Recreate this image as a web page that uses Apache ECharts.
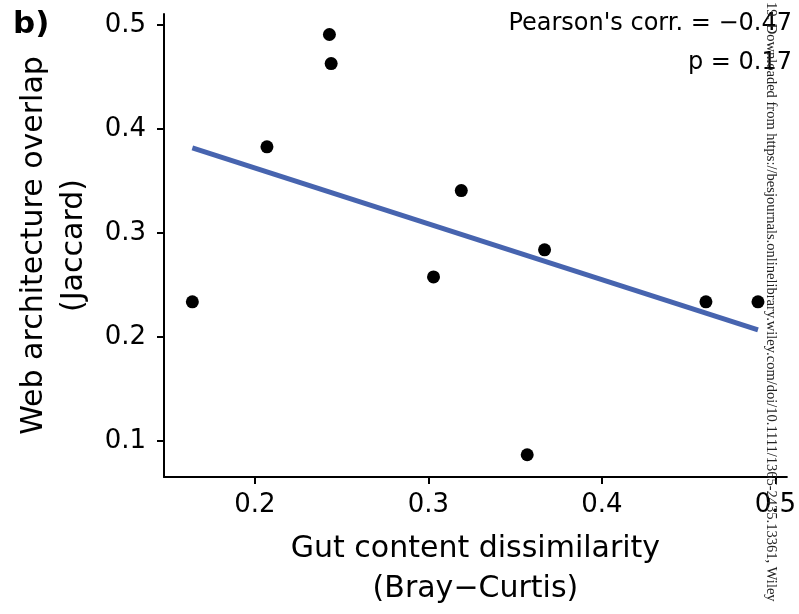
<!DOCTYPE html>
<html>
<head>
<meta charset="utf-8">
<script src="https://cdn.jsdelivr.net/npm/echarts@6/dist/echarts.min.js"></script>
<style>
  html, body { margin: 0; padding: 0; background: #fff; }
  #chart { width: 799px; height: 614px; }
</style>
</head>
<body>
<div id="chart"></div>
<script>
// points
const gutDissim = [0.164, 0.207, 0.243, 0.244, 0.303, 0.319, 0.367, 0.357, 0.460, 0.490]
const webOverlap = [0.234, 0.383, 0.491, 0.463, 0.258, 0.341, 0.284, 0.087, 0.234, 0.234]
// fitted line ends
const fitX = [0.164, 0.490]
const fitY = [0.382, 0.207]
const xTicks = [0.2, 0.3, 0.4, 0.5]
const yTicks = [0.1, 0.2, 0.3, 0.4, 0.5]
const corrText = 'Pearson\'s corr. = \u22120.47'
const pText = 'p = 0.17'
const panelTag = 'b)'
const sourceNote = '19. Downloaded from https://besjournals.onlinelibrary.wiley.com/doi/10.1111/1365-2435.13361, Wiley'

const font = 'DejaVu Sans'
const chart = echarts.init(document.getElementById('chart'))

chart.setOption({
  animation: false,
  backgroundColor: '#fff',
  grid: { left: 164, right: 4, top: 14, bottom: 130 },
  xAxis: {
    type: 'value',
    min: 0.14766,
    max: 0.50665,
    name: 'Gut content dissimilarity\n(Bray\u2212Curtis)',
    nameLocation: 'middle',
    nameGap: 52,
    nameTextStyle: { fontFamily: font, fontSize: 30, lineHeight: 40, color: '#000' },
    splitLine: { show: false },
    axisLine: { lineStyle: { color: '#000', width: 2 } },
    axisTick: { customValues: xTicks, length: 7, lineStyle: { color: '#000', width: 2 } },
    axisLabel: {
      customValues: xTicks,
      margin: 15,
      fontFamily: font,
      fontSize: 26,
      lineHeight: 26,
      color: '#000',
      formatter: v => v.toFixed(1)
    }
  },
  yAxis: {
    type: 'value',
    min: 0.06563,
    max: 0.5107,
    name: 'Web architecture overlap\n(Jaccard)',
    nameLocation: 'middle',
    nameGap: 62,
    nameTextStyle: { fontFamily: font, fontSize: 30, lineHeight: 40, color: '#000' },
    splitLine: { show: false },
    axisLine: { show: true, lineStyle: { color: '#000', width: 2 } },
    axisTick: { show: true, customValues: yTicks, length: 7, lineStyle: { color: '#000', width: 2 } },
    axisLabel: {
      customValues: yTicks,
      margin: 18,
      fontFamily: font,
      fontSize: 26,
      color: '#000',
      formatter: v => v.toFixed(1)
    }
  },
  series: [
    {
      type: 'line',
      data: fitX.map((x, i) => [x, fitY[i]]),
      showSymbol: false,
      lineStyle: { color: '#4764af', width: 5 },
      z: 2
    },
    {
      type: 'scatter',
      data: gutDissim.map((x, i) => [x, webOverlap[i]]),
      symbolSize: 13,
      itemStyle: { color: '#000', opacity: 1 },
      z: 3
    }
  ],
  graphic: [
    {
      type: 'text',
      left: 13,
      top: 9,
      style: { text: panelTag, font: 'bold 31px "DejaVu Sans"', fill: '#000' }
    },
    {
      type: 'text',
      x: 792,
      y: 24,
      style: { text: corrText, font: '24px "DejaVu Sans"', fill: '#000', textAlign: 'right', textVerticalAlign: 'middle' }
    },
    {
      type: 'text',
      x: 792,
      y: 63,
      style: { text: pText, font: '24px "DejaVu Sans"', fill: '#000', textAlign: 'right', textVerticalAlign: 'middle' }
    },
    {
      // rotated download note from the source pdf
      type: 'text',
      x: 771,
      y: 2,
      rotation: -Math.PI / 2,
      z: 100,
      style: { text: sourceNote, font: '14.5px "Liberation Serif"', fill: '#222', textAlign: 'left', textVerticalAlign: 'middle' }
    }
  ]
})
</script>
</body>
</html>
